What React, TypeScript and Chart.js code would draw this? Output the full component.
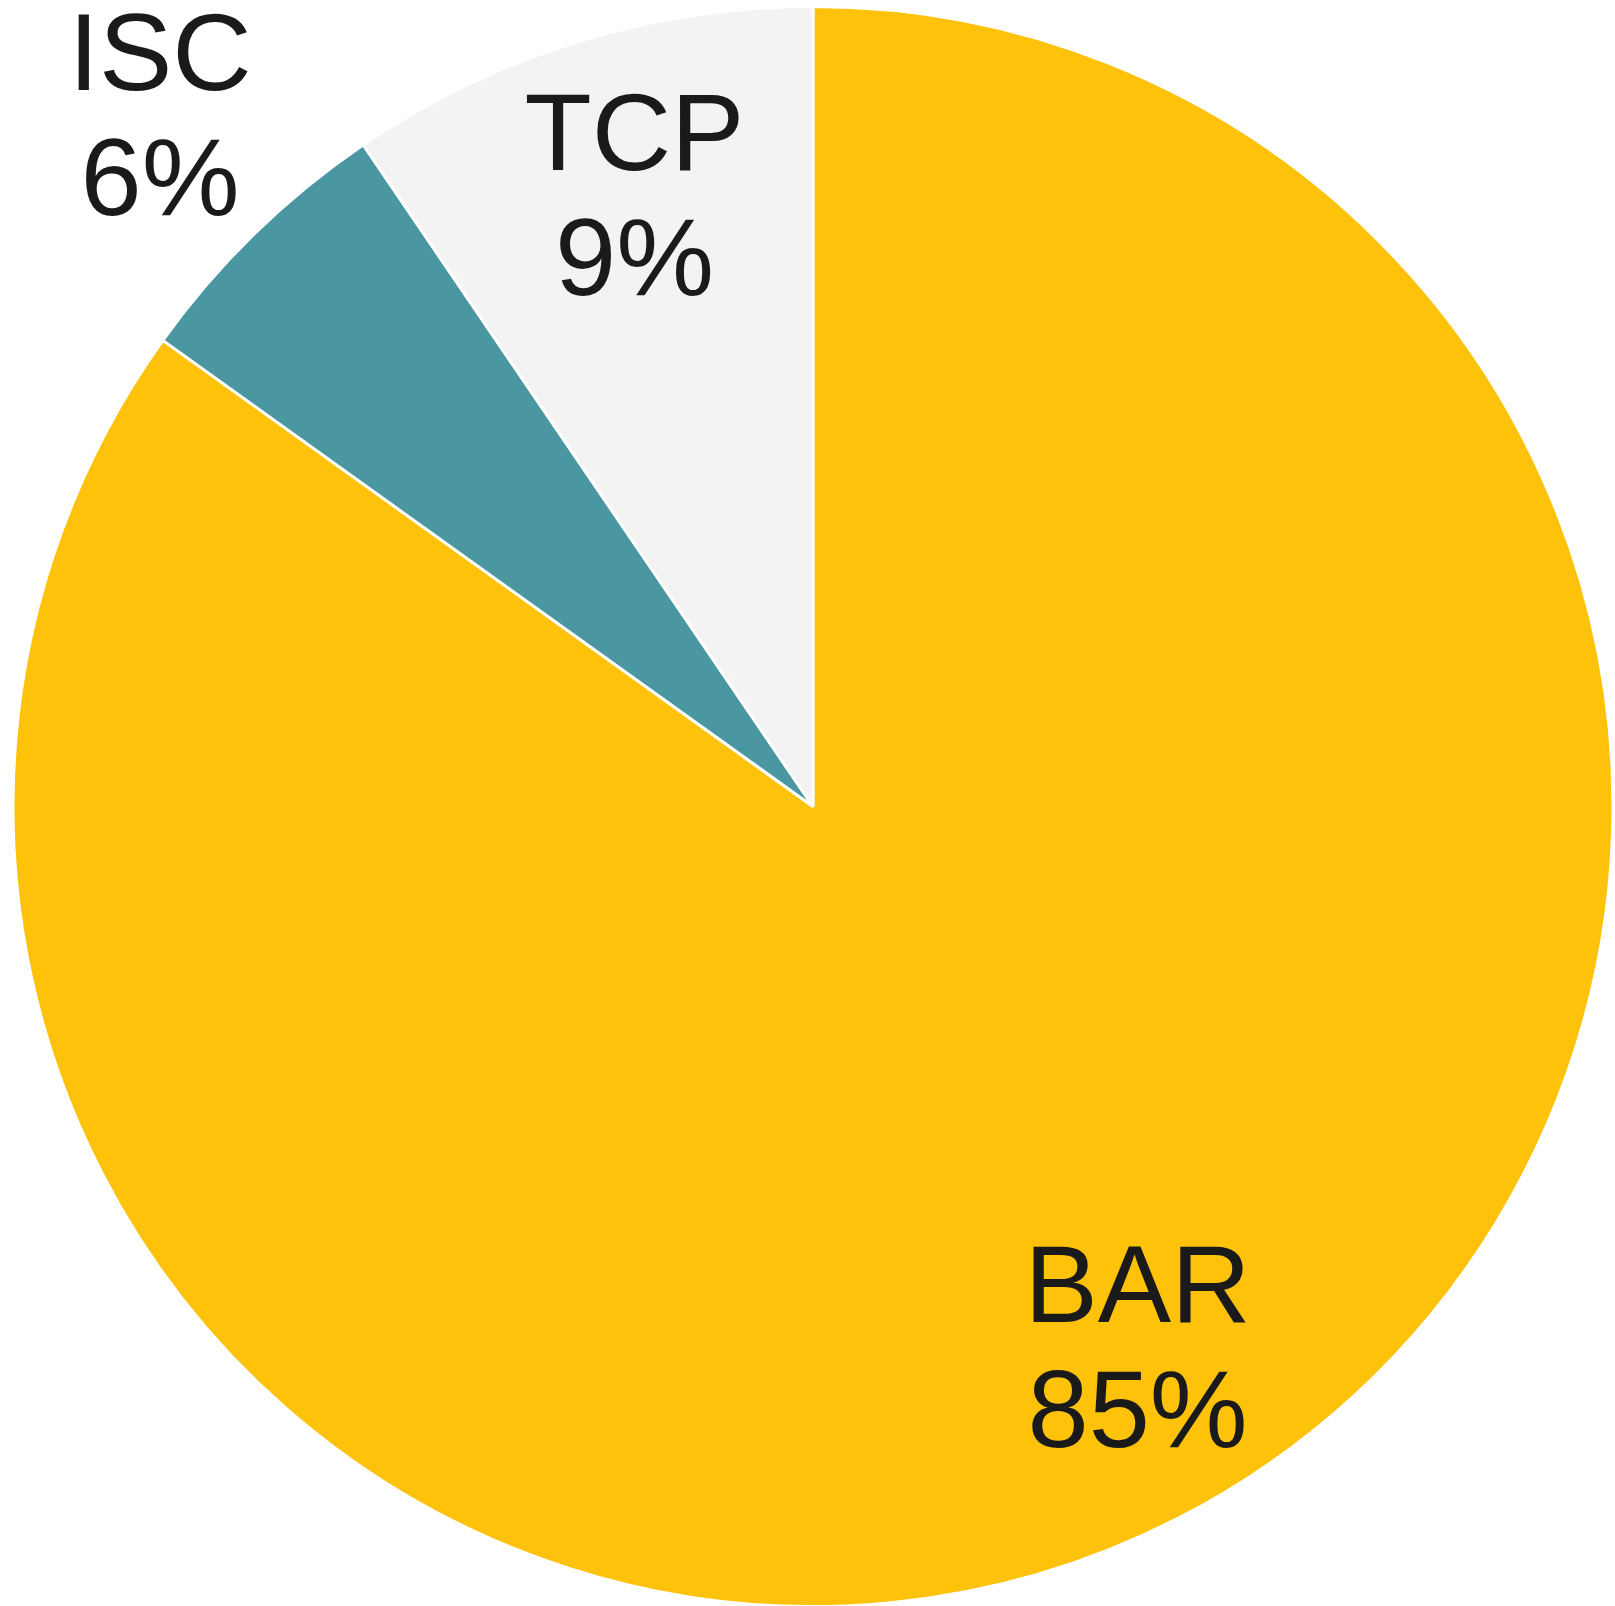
import React, { useEffect, useRef } from "react";
import { Chart, registerables } from "chart.js";

Chart.register(...registerables);

// ---- data ----
const categories = ["BAR", "ISC", "TCP"];
const shares = [84.9, 5.6, 9.5];
const percentLabels = ["85%", "6%", "9%"];
const sliceColors = ["#FFC20A", "#4A96A1", "#F3F3F3"];

// ---- label placement styling (radius factor, angle shift in degrees) ----
const labelRadiusFactor = [0.7885, 1.1916, 0.799];
const labelAngleShift = [-3.85, 0.95, 0.85];

const FONT_SIZE = 110;
const CAP_HEIGHT = 77;
const LINE_GAP = 125;
const TEXT_COLOR = "#1a1a1a";

const labelPlugin = {
  id: "sliceLabels",
  afterDatasetsDraw(chart: any) {
    const ctx = chart.ctx as CanvasRenderingContext2D;
    const meta = chart.getDatasetMeta(0);
    ctx.save();
    ctx.font = `${FONT_SIZE}px "Liberation Sans", Arial, sans-serif`;
    ctx.fillStyle = TEXT_COLOR;
    ctx.textAlign = "center";
    ctx.textBaseline = "alphabetic";
    meta.data.forEach((arc: any, i: number) => {
      const p = arc.getProps(["x", "y", "startAngle", "endAngle", "outerRadius"], true);
      const visR = p.outerRadius - 1.5;
      const mid = (p.startAngle + p.endAngle) / 2 + (labelAngleShift[i] * Math.PI) / 180;
      const r = visR * labelRadiusFactor[i];
      const cx = p.x + Math.cos(mid) * r;
      const cy = p.y + Math.sin(mid) * r;
      const half = (CAP_HEIGHT + LINE_GAP) / 2;
      const b1 = cy - half + CAP_HEIGHT;
      const b2 = cy + half;
      ctx.fillText(categories[i], cx, b1);
      ctx.fillText(percentLabels[i], cx, b2);
    });
    ctx.restore();
  },
};

export default function App() {
  const ref = useRef<HTMLCanvasElement | null>(null);
  useEffect(() => {
    document.body.style.margin = "0";
    if (!ref.current) return;
    const chart = new Chart(ref.current, {
      type: "pie",
      data: {
        labels: categories,
        datasets: [
          {
            data: shares,
            backgroundColor: sliceColors,
            borderColor: "#ffffff",
            borderWidth: 3,
            clip: false as any,
          },
        ],
      },
      options: {
        responsive: false,
        animation: false,
        radius: 800,
        layout: { padding: { left: 11, right: 0, top: 7, bottom: 0 } },
        plugins: {
          legend: { display: false },
          tooltip: { enabled: false },
        },
      } as any,
      plugins: [labelPlugin],
    });
    return () => chart.destroy();
  }, []);
  return (
    <div style={{ width: 1615, height: 1606, background: "#ffffff" }}>
      <canvas ref={ref} width={1615} height={1606} style={{ display: "block" }} />
    </div>
  );
}
